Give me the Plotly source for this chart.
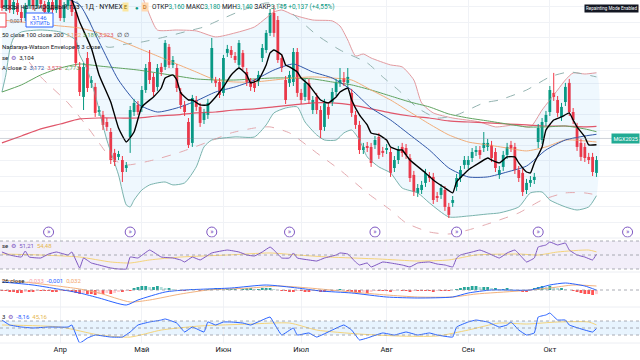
import plotly.graph_objects as go
import pandas as pd

# ---------------- data ----------------
first_day = "2025-03-11"
holidays = ["2025-04-18", "2025-05-26", "2025-06-19", "2025-07-04", "2025-09-01"]
month_names = {3: "Мар", 4: "Апр", 5: "Май", 6: "Июн", 7: "Июл", 8: "Авг", 9: "Сен", 10: "Окт", 11: "Ноя"}

open_ = [4.078, 3.993, 4.058, 3.980, 4.026, 3.967, 3.928, 4.006, 4.071, 4.006, 4.084, 4.019, 3.967, 4.032, 3.980, 4.045, 3.928, 4.006, 4.045, 3.967,
         3.610, 3.415, 3.668, 3.506, 3.480, 3.317, 3.298, 3.252, 3.187, 3.051, 3.025, 3.005, 2.953, 3.155, 3.317, 3.363, 3.343, 3.460, 3.642, 3.545,
         3.480, 3.610, 3.610, 3.740, 3.623, 3.603, 3.447, 3.363, 3.252, 3.116, 3.395, 3.350, 3.265, 3.298, 3.525, 3.525, 3.512, 3.441, 3.701, 3.720,
         3.681, 3.623, 3.701, 3.577, 3.512, 3.506, 3.512, 3.668, 3.720, 3.831, 3.961, 3.915, 3.668, 3.525, 3.506, 3.512, 3.707, 3.441, 3.415, 3.506,
         3.330, 3.415, 3.330, 3.220, 3.350, 3.382, 3.447, 3.506, 3.538, 3.506, 3.441, 3.298, 3.233, 3.070, 3.096, 3.090, 3.103, 3.155, 3.064, 3.070,
         3.057, 2.953, 3.005, 3.090, 3.083, 3.018, 2.908, 2.791, 2.810, 2.856, 2.901, 2.895, 2.771, 2.778, 2.810, 2.700, 2.726, 2.830, 2.888, 2.973,
         2.973, 3.018, 3.057, 3.070, 3.083, 3.090, 3.103, 3.057, 2.908, 2.960, 3.038, 3.103, 3.090, 2.940, 2.921, 2.810, 2.856, 2.875, 3.122, 3.135,
         3.252, 3.317, 3.441, 3.395, 3.285, 3.382, 3.506, 3.317, 3.220, 3.116, 3.090, 3.025, 3.025, 2.921]
high = [4.104, 4.084, 4.078, 4.052, 4.045, 3.987, 4.026, 4.097, 4.091, 4.110, 4.104, 4.039, 4.058, 4.052, 4.065, 4.071, 4.032, 4.065, 4.071, 3.993,
        3.642, 3.636, 3.707, 3.551, 3.506, 3.356, 3.324, 3.278, 3.213, 3.077, 3.064, 3.031, 2.992, 3.356, 3.402, 3.389, 3.486, 3.629, 3.720, 3.571,
        3.629, 3.636, 3.785, 3.759, 3.681, 3.629, 3.473, 3.389, 3.278, 3.428, 3.421, 3.376, 3.337, 3.402, 3.798, 3.545, 3.538, 3.688, 3.753, 3.746,
        3.707, 3.785, 3.720, 3.603, 3.538, 3.532, 3.584, 3.759, 3.850, 3.987, 4.013, 3.941, 3.694, 3.551, 3.584, 3.733, 3.733, 3.467, 3.532, 3.532,
        3.421, 3.441, 3.356, 3.402, 3.376, 3.473, 3.532, 3.603, 3.577, 3.603, 3.467, 3.324, 3.259, 3.116, 3.122, 3.116, 3.161, 3.181, 3.090, 3.109,
        3.083, 3.031, 3.096, 3.116, 3.109, 3.044, 2.934, 2.849, 2.869, 2.947, 2.927, 2.921, 2.797, 2.849, 2.836, 2.726, 2.771, 2.914, 2.966, 3.031,
        3.031, 3.083, 3.096, 3.096, 3.187, 3.142, 3.129, 3.083, 2.966, 3.064, 3.116, 3.129, 3.116, 2.966, 2.947, 2.882, 2.901, 2.921, 3.239, 3.278,
        3.324, 3.486, 3.571, 3.421, 3.376, 3.506, 3.532, 3.343, 3.246, 3.142, 3.116, 3.051, 3.051, 3.031]
low = [3.974, 3.974, 3.961, 3.954, 3.948, 3.902, 3.909, 3.987, 3.980, 3.987, 3.993, 3.948, 3.941, 3.954, 3.961, 3.909, 3.902, 3.980, 3.941, 3.616,
       3.421, 3.330, 3.447, 3.473, 3.285, 3.291, 3.200, 3.194, 2.979, 2.966, 3.005, 2.862, 2.927, 3.051, 3.291, 3.298, 3.317, 3.441, 3.499, 3.421,
       3.454, 3.551, 3.590, 3.603, 3.603, 3.447, 3.337, 3.291, 3.083, 3.090, 3.324, 3.220, 3.239, 3.272, 3.506, 3.480, 3.408, 3.421, 3.675, 3.668,
       3.636, 3.603, 3.590, 3.486, 3.454, 3.447, 3.486, 3.642, 3.701, 3.811, 3.805, 3.636, 3.577, 3.369, 3.480, 3.486, 3.415, 3.369, 3.389, 3.369,
       3.304, 3.304, 3.148, 3.194, 3.272, 3.356, 3.421, 3.480, 3.486, 3.480, 3.285, 3.207, 3.044, 3.044, 3.057, 2.960, 3.077, 3.012, 3.025, 3.044,
       2.895, 2.927, 2.979, 3.025, 3.012, 2.862, 2.771, 2.765, 2.784, 2.830, 2.862, 2.719, 2.732, 2.752, 2.674, 2.628, 2.700, 2.804, 2.862, 2.947,
       2.947, 2.992, 3.031, 3.012, 3.057, 3.064, 2.992, 2.927, 2.882, 2.934, 3.012, 3.057, 2.914, 2.862, 2.771, 2.784, 2.830, 2.849, 3.083, 3.109,
       3.226, 3.291, 3.389, 3.285, 3.259, 3.356, 3.291, 3.239, 3.064, 2.999, 2.992, 2.979, 2.901, 2.895]
close = [3.993, 4.058, 3.980, 4.032, 3.967, 3.928, 4.006, 4.071, 4.006, 4.084, 4.019, 3.967, 4.032, 3.980, 4.045, 3.928, 4.013, 4.045, 3.967, 3.636,
         3.447, 3.610, 3.473, 3.525, 3.311, 3.330, 3.233, 3.220, 3.005, 2.992, 3.044, 2.927, 2.972, 3.330, 3.376, 3.317, 3.460, 3.603, 3.525, 3.447,
         3.603, 3.577, 3.766, 3.623, 3.655, 3.473, 3.363, 3.317, 3.103, 3.408, 3.350, 3.246, 3.311, 3.376, 3.733, 3.506, 3.428, 3.668, 3.727, 3.688,
         3.655, 3.766, 3.610, 3.512, 3.480, 3.473, 3.558, 3.733, 3.831, 3.961, 3.831, 3.655, 3.603, 3.395, 3.558, 3.707, 3.441, 3.395, 3.506, 3.395,
         3.395, 3.330, 3.200, 3.376, 3.298, 3.447, 3.506, 3.525, 3.512, 3.545, 3.311, 3.233, 3.070, 3.090, 3.083, 2.986, 3.135, 3.038, 3.051, 3.083,
         2.921, 3.005, 3.070, 3.051, 3.038, 2.888, 2.797, 2.823, 2.843, 2.921, 2.888, 2.745, 2.758, 2.823, 2.700, 2.648, 2.745, 2.888, 2.940, 3.005,
         3.005, 3.057, 3.070, 3.038, 3.116, 3.116, 3.018, 2.953, 2.940, 3.038, 3.090, 3.083, 2.940, 2.888, 2.797, 2.856, 2.875, 2.895, 3.213, 3.252,
         3.298, 3.460, 3.415, 3.311, 3.350, 3.480, 3.317, 3.265, 3.090, 3.025, 3.018, 3.005, 2.927, 3.005]

# indicator lines: (bar number, value)
ma_fast_bar = [10, 15, 18, 20, 23, 25, 28, 30, 32, 34, 36, 39, 41, 42, 44, 45, 46, 48, 49, 51, 53, 55, 57, 59, 61, 63, 64, 66, 68, 69, 70, 72, 73, 74, 76, 77, 79, 82, 84, 86, 87, 89, 90, 92, 94, 95, 97, 99, 100, 102, 103, 105, 109, 111, 114, 116, 117, 120, 122, 125, 126, 128, 130, 132, 133, 135, 136, 137, 139, 140, 142, 144, 146, 147, 148, 150, 151, 153]
ma_fast = [4.240, 4.143, 4.045, 3.902, 3.733, 3.558, 3.382, 3.213, 3.122, 3.187, 3.350, 3.415, 3.473, 3.538, 3.558, 3.525, 3.441, 3.395, 3.395, 3.363, 3.363, 3.415, 3.480, 3.558, 3.603, 3.558, 3.506, 3.525, 3.623, 3.701, 3.720, 3.688, 3.623, 3.610, 3.577, 3.538, 3.493, 3.395, 3.376, 3.415, 3.447, 3.473, 3.395, 3.298, 3.233, 3.181, 3.168, 3.135, 3.090, 3.070, 3.070, 3.005, 2.921, 2.875, 2.823, 2.791, 2.862, 2.940, 2.973, 3.018, 3.005, 2.986, 3.025, 3.025, 2.986, 2.927, 2.921, 2.986, 3.090, 3.200, 3.265, 3.285, 3.311, 3.265, 3.220, 3.155, 3.103, 3.104]

grid_bar = [0, 5, 10, 15, 20, 25, 30, 35, 40, 45, 50, 55, 60, 65, 70, 75, 80, 85, 90, 95, 100, 105, 110, 115, 120, 125, 130, 135, 140, 145, 150, 153]
ma20 = [4.078, 4.078, 4.078, 4.065, 4.013, 3.772, 3.525, 3.369, 3.317, 3.343, 3.389, 3.447, 3.480, 3.525, 3.590, 3.629, 3.577, 3.538, 3.460, 3.343, 3.265, 3.168, 3.070, 2.953, 2.895, 2.895, 2.927, 2.966, 3.070, 3.135, 3.161, 3.172]
ma50 = [3.915, 3.902, 3.889, 3.876, 3.863, 3.831, 3.785, 3.733, 3.681, 3.629, 3.577, 3.525, 3.512, 3.512, 3.525, 3.538, 3.545, 3.538, 3.525, 3.460, 3.395, 3.317, 3.239, 3.168, 3.122, 3.103, 3.083, 3.064, 3.090, 3.135, 3.129, 3.122]
ma100 = [3.447, 3.493, 3.558, 3.603, 3.629, 3.616, 3.603, 3.590, 3.571, 3.551, 3.532, 3.525, 3.525, 3.532, 3.538, 3.538, 3.532, 3.512, 3.493, 3.460, 3.421, 3.382, 3.350, 3.304, 3.278, 3.259, 3.239, 3.220, 3.220, 3.226, 3.207, 3.189]
ma200 = [3.116, 3.161, 3.207, 3.239, 3.272, 3.278, 3.278, 3.278, 3.291, 3.298, 3.311, 3.317, 3.330, 3.337, 3.350, 3.363, 3.376, 3.376, 3.363, 3.337, 3.311, 3.291, 3.278, 3.259, 3.252, 3.246, 3.239, 3.233, 3.226, 3.226, 3.220, 3.223]

bb_up_bar = [0, 10, 20, 30, 35, 37, 38, 40, 45, 50, 55, 60, 65, 68, 70, 72, 75, 80, 85, 87, 89, 91, 93, 95, 100, 103, 106, 108, 111, 116, 123, 127, 132, 136, 139, 143, 145, 147, 150, 153]
bb_up = [4.435, 4.403, 4.338, 4.273, 4.123, 4.013, 3.948, 3.850, 3.850, 3.844, 3.805, 3.831, 3.870, 3.928, 3.967, 3.980, 3.948, 3.915, 3.909, 3.876, 3.785, 3.681, 3.694, 3.668, 3.623, 3.610, 3.525, 3.376, 3.311, 3.278, 3.252, 3.220, 3.233, 3.220, 3.330, 3.460, 3.525, 3.571, 3.564, 3.572]
bb_lo_bar = [0, 1, 2, 3, 5, 10, 15, 19, 20, 22, 24, 27, 30, 32, 33, 34, 36, 38, 40, 42, 44, 47, 50, 52, 54, 60, 65, 68, 70, 73, 76, 78, 81, 83, 86, 88, 90, 92, 94, 97, 100, 103, 107, 110, 115, 120, 125, 128, 133, 136, 139, 141, 145, 148, 151, 153]
bb_lo = [3.447, 3.558, 3.720, 3.798, 3.837, 3.850, 3.837, 3.785, 3.688, 3.590, 3.428, 3.135, 2.908, 2.713, 2.700, 2.745, 2.810, 2.843, 2.856, 2.862, 2.843, 2.856, 2.960, 3.090, 3.135, 3.155, 3.155, 3.233, 3.311, 3.343, 3.350, 3.252, 3.168, 3.135, 3.135, 3.181, 3.200, 3.135, 3.025, 2.960, 2.921, 2.823, 2.791, 2.726, 2.635, 2.641, 2.654, 2.661, 2.700, 2.791, 2.797, 2.745, 2.700, 2.680, 2.700, 2.773]

nw_up_bar = [10, 20, 27, 32, 36, 42, 48, 52, 56, 62, 68, 72, 76, 81, 87, 94, 98, 102, 107, 112, 117, 124, 128, 135, 141, 146, 153]
nw_up = [4.305, 4.013, 3.740, 3.759, 3.772, 3.805, 3.844, 3.870, 3.915, 3.980, 4.026, 4.013, 3.928, 3.818, 3.720, 3.636, 3.545, 3.460, 3.343, 3.278, 3.298, 3.376, 3.395, 3.460, 3.545, 3.577, 3.545]
nw_lo_bar = [7, 10, 17, 22, 25, 28, 32, 39, 46, 53, 59, 65, 69, 74, 79, 81, 87, 94, 100, 104, 110, 115, 120, 125, 128, 133, 139, 145, 150, 153]
nw_lo = [3.642, 3.545, 3.376, 3.220, 3.116, 3.018, 2.973, 3.005, 3.057, 3.122, 3.181, 3.213, 3.220, 3.181, 3.090, 3.051, 2.940, 2.791, 2.680, 2.596, 2.537, 2.524, 2.550, 2.589, 2.615, 2.661, 2.745, 2.791, 2.791, 2.778]

rsi_bar = [0, 2, 5, 6, 7, 10, 12, 14, 17, 18, 20, 21, 23, 25, 28, 30, 32, 33, 35, 38, 41, 44, 46, 47, 49, 51, 54, 58, 61, 63, 65, 67, 69, 70, 72, 74, 75, 76, 79, 81, 83, 86, 87, 89, 91, 92, 94, 95, 98, 100, 103, 105, 107, 110, 112, 114, 116, 117, 118, 121, 123, 125, 128, 130, 132, 134, 135, 137, 138, 140, 141, 143, 145, 146, 148, 150, 152, 153]
rsi = [54.3, 50.0, 47.1, 55.7, 47.1, 45.7, 51.4, 54.3, 50.0, 54.3, 31.4, 45.7, 38.6, 35.7, 31.4, 30.0, 30.0, 47.1, 45.7, 57.1, 47.1, 45.7, 42.9, 40.0, 47.1, 42.9, 52.9, 57.1, 54.3, 50.0, 48.6, 54.3, 61.4, 57.1, 45.7, 45.7, 52.9, 45.7, 42.9, 41.4, 45.7, 50.0, 52.9, 51.4, 40.0, 35.7, 38.6, 32.9, 40.0, 38.6, 35.7, 32.9, 38.6, 40.0, 37.1, 35.7, 32.9, 45.7, 50.0, 54.3, 57.1, 52.9, 45.7, 52.9, 57.1, 45.7, 40.0, 45.7, 61.4, 64.3, 68.6, 64.3, 67.1, 57.1, 50.0, 47.1, 42.9, 51.21]
rsi_ma_bar = [0, 10, 20, 28, 33, 38, 46, 58, 69, 76, 84, 97, 107, 115, 122, 133, 138, 143, 151, 153]
rsi_ma = [51.4, 50.0, 47.1, 40.0, 38.6, 42.9, 47.1, 50.0, 52.9, 50.0, 47.1, 44.3, 41.4, 42.9, 50.0, 51.4, 50.0, 54.3, 57.1, 54.48]

macd_bar = [0, 8, 20, 25, 32, 35, 42, 47, 59, 68, 76, 82, 90, 99, 107, 116, 120, 126, 136, 141, 145, 150, 153]
macd = [0.064, 0.040, -0.024, -0.064, -0.120, -0.080, -0.016, 0.000, 0.016, 0.040, 0.016, -0.008, -0.024, -0.056, -0.064, -0.056, -0.024, 0.000, 0.000, 0.040, 0.056, 0.032, -0.001]
signal_bar = [0, 8, 20, 25, 33, 38, 46, 53, 64, 71, 79, 90, 99, 107, 116, 122, 133, 141, 147, 153]
signal = [0.080, 0.056, 0.008, -0.024, -0.096, -0.080, -0.032, 0.000, 0.016, 0.032, 0.016, -0.016, -0.040, -0.056, -0.056, -0.032, -0.008, 0.016, 0.040, 0.032]
hist = [-0.008, -0.008,
        -0.016, -0.016, -0.024, -0.024, -0.016, -0.016, -0.016, -0.008, -0.008, -0.008,
        -0.008, -0.016, -0.016, -0.008, -0.008, -0.008,
        -0.016, -0.024, -0.032, -0.024, -0.032, -0.032, -0.040, -0.032, -0.032, -0.024, -0.032, -0.024, -0.016,
        -0.016, -0.008, -0.008,
        0.016, 0.024, 0.032, 0.032, 0.024, 0.024, 0.032, 0.024, 0.016,
        0.016, 0.008, 0.000, -0.008, -0.008, 0.000, 0.008, 0.000, -0.008, 0.000, 0.008, 0.008,
        0.016, 0.016, 0.008, 0.008, 0.008,
        0.008, 0.000, 0.008, 0.016, 0.016, 0.008, 0.008,
        0.016, 0.016, 0.016, 0.008, 0.000,
        -0.008, -0.008, -0.016, -0.016, -0.008, -0.008, -0.016, -0.016, -0.008, -0.008,
        -0.016, -0.016, -0.008, -0.008, 0.000, 0.008, 0.000, -0.008,
        -0.016, -0.024, -0.024, -0.016, -0.024, -0.016, -0.008,
        -0.008, -0.008, -0.008, -0.016, -0.008, 0.000, -0.008, -0.008, -0.016, -0.008, -0.008, -0.008, -0.008, -0.008, -0.016, -0.008, -0.008, -0.008, -0.008, 0.000, 0.008,
        0.016, 0.024, 0.024, 0.032, 0.032, 0.024, 0.024, 0.024, 0.016,
        0.016, 0.008, 0.008, 0.016, 0.008, 0.000, -0.008,
        -0.016, -0.016, -0.008,
        0.016, 0.024, 0.032, 0.024, 0.032, 0.024, 0.016, 0.016, 0.008,
        0.000, -0.008, -0.016,
        -0.024, -0.032, -0.032, -0.040, -0.033]

cci_bar = [0, 2, 5, 8, 12, 17, 18, 20, 22, 24, 28, 31, 33, 35, 38, 41, 42, 45, 47, 49, 52, 53, 55, 57, 59, 62, 64, 69, 70, 72, 75, 76, 79, 81, 85, 88, 90, 92, 94, 98, 101, 104, 107, 110, 112, 116, 117, 120, 122, 125, 128, 130, 131, 133, 135, 137, 138, 140, 141, 143, 145, 146, 150, 152, 153]
cci = [114, 43, 14, 0, 14, 14, 43, -214, -143, -100, -129, -129, -57, 43, 86, 114, 129, 71, -57, 14, -57, 86, 43, 86, 86, 71, 43, 157, 71, -100, 0, -100, -71, -129, -29, 43, -29, -171, -143, -71, -100, -57, -100, -71, -100, -129, 14, 86, 114, 86, 14, 43, 86, -29, -100, -71, 157, 186, 214, 114, 114, 43, -29, -57, -8.16]
cci_ma_bar = [0, 15, 25, 33, 41, 51, 64, 74, 81, 92, 102, 112, 120, 128, 135, 143, 151, 153]
cci_ma = [43, 14, -100, -129, -29, 29, 57, 71, -29, -86, -114, -114, -29, 71, 57, 86, 86, 45.16]

roll_bar = [12, 33, 54, 74, 96, 117, 138, 161]
last_price = 3.145

# ---------------- styling ----------------
W, H = 640, 360
FONT = "Roboto, Liberation Sans, Arial, sans-serif"
DARK = "#131722"
UP, DN = "#089981", "#f23645"
GRID = "#f0f2f6"
MAIN_RANGE = [2.498, 4.045]
X_RANGE = [-0.5, 164.2]

# pane boundaries in pixels from top
P_MAIN = (0, 238)
P_RSI = (238, 272)
P_MACD = (272, 307)
P_CCI = (307, 343)


def dom(p):
    return [1 - p[1] / H, 1 - p[0] / H]


# dates -> month ticks
bday = pd.offsets.CustomBusinessDay(holidays=holidays)
dates = pd.date_range(first_day, periods=170, freq=bday)
tickvals, ticktext = [], []
for i in range(1, len(dates)):
    if dates[i].month != dates[i - 1].month:
        tickvals.append(i)
        ticktext.append(month_names[dates[i].month])

n = len(close)
bars = list(range(n))

fig = go.Figure()

# Bollinger fill
fig.add_trace(go.Scatter(x=bb_up_bar + bb_lo_bar[::-1], y=bb_up + bb_lo[::-1], fill="toself",
                         fillcolor="rgba(33,150,243,0.07)", line=dict(width=0, shape="spline", smoothing=0.6),
                         hoverinfo="skip", xaxis="x", yaxis="y"))


def line(xs, ys, color, width=1.0, dash=None, ax=("x", "y"), smooth=0.6):
    fig.add_trace(go.Scatter(x=xs, y=ys, mode="lines",
                             line=dict(color=color, width=width, dash=dash, shape="spline", smoothing=smooth),
                             hoverinfo="skip", xaxis=ax[0], yaxis=ax[1]))


line(bb_up_bar, bb_up, "#e39a9f", 1.0)
line(bb_lo_bar, bb_lo, "#79b3ad", 1.0)
line(nw_up_bar, nw_up, "#93b3b0", 1.0, "dash")
line(nw_lo_bar, nw_lo, "#e4a9ae", 1.0, "dash")
line(grid_bar, ma200, "#e0566a", 1.2)
line(grid_bar, ma100, "#5fa35f", 1.0)
line(grid_bar, ma50, "#f2ad79", 1.0)
line(grid_bar, ma20, "#2f56a8", 1.0)

# candles: wicks + bodies
for is_up, col in ((True, UP), (False, DN)):
    wx, wy = [], []
    bx, bbase, bh = [], [], []
    for i in bars:
        if (close[i] >= open_[i]) != is_up:
            continue
        wx += [i, i, None]
        wy += [low[i], high[i], None]
        bx.append(i)
        bbase.append(min(open_[i], close[i]))
        bh.append(max(abs(close[i] - open_[i]), 0.004))
    fig.add_trace(go.Scatter(x=wx, y=wy, mode="lines", line=dict(color=col, width=1), hoverinfo="skip",
                             xaxis="x", yaxis="y"))
    fig.add_trace(go.Bar(x=bx, y=bh, base=bbase, width=0.72, marker=dict(color=col, line=dict(width=0)),
                         hoverinfo="skip", xaxis="x", yaxis="y"))

line(ma_fast_bar, ma_fast, "#000000", 1.4, smooth=0.4)

# roll markers
roll_y = MAIN_RANGE[0] + 0.025 * (MAIN_RANGE[1] - MAIN_RANGE[0])
fig.add_trace(go.Scatter(x=roll_bar, y=[roll_y] * len(roll_bar), mode="markers+text", text=["»"] * len(roll_bar),
                         textposition="middle center", textfont=dict(size=7, color="#7e57c2", family=FONT),
                         marker=dict(symbol="circle", size=10, color="white", line=dict(color="#7e57c2", width=1)),
                         hoverinfo="skip", xaxis="x", yaxis="y", cliponaxis=False))

# RSI
line(rsi_ma_bar, rsi_ma, "#f5d47a", 1.0, ax=("x2", "y2"))
line(rsi_bar, rsi, "#7e57c2", 1.0, ax=("x2", "y2"), smooth=0.3)

# MACD
hist_colors = []
for i, v in enumerate(hist):
    prev = hist[i - 1] if i > 0 else v
    if v >= 0:
        hist_colors.append("#26a69a" if v >= prev else "#b2dfdb")
    else:
        hist_colors.append("#ff5252" if v <= prev else "#ffcdd2")
fig.add_trace(go.Bar(x=bars, y=hist, width=0.72, marker=dict(color=hist_colors, line=dict(width=0)),
                     hoverinfo="skip", xaxis="x3", yaxis="y3"))
line(signal_bar, signal, "#f2b27e", 1.0, ax=("x3", "y3"))
line(macd_bar, macd, "#2962ff", 1.0, ax=("x3", "y3"))

# CCI
line(cci_ma_bar, cci_ma, "#f5d47a", 1.0, ax=("x4", "y4"))
line(cci_bar, cci, "#2962ff", 1.0, ax=("x4", "y4"), smooth=0.3)

shapes = []
# RSI band
shapes.append(dict(type="rect", xref="paper", yref="y2", x0=0, x1=1, y0=30, y1=70,
                   fillcolor="rgba(126,87,194,0.10)", line=dict(width=0), layer="below"))
for v in (70, 50, 30):
    shapes.append(dict(type="line", xref="paper", yref="y2", x0=0, x1=1, y0=v, y1=v,
                       line=dict(color="#9598a1", width=0.8, dash="dot")))
shapes.append(dict(type="line", xref="paper", yref="y3", x0=0, x1=1, y0=0, y1=0,
                   line=dict(color="#9598a1", width=0.8, dash="dot")))
shapes.append(dict(type="rect", xref="paper", yref="y4", x0=0, x1=1, y0=-100, y1=100,
                   fillcolor="rgba(33,150,243,0.10)", line=dict(width=0), layer="below"))
for v in (100, 0, -100):
    shapes.append(dict(type="line", xref="paper", yref="y4", x0=0, x1=1, y0=v, y1=v,
                       line=dict(color="#9598a1", width=0.8, dash="dot")))
# last price line
shapes.append(dict(type="line", xref="paper", yref="y", x0=0, x1=1, y0=last_price, y1=last_price,
                   line=dict(color="rgba(120,130,150,0.35)", width=1)))
# pane separators
for p in (P_RSI[0], P_MACD[0], P_CCI[0], P_CCI[1]):
    shapes.append(dict(type="line", xref="paper", yref="paper", x0=0, x1=1, y0=1 - p / H, y1=1 - p / H,
                       line=dict(color="#eceef3", width=1)))
# buy/sell buttons
shapes.append(dict(type="rect", xref="paper", yref="paper", x0=-5 / W, x1=6 / W, y0=1 - 27 / H, y1=1 - 13 / H,
                   line=dict(color="#f23645", width=1), fillcolor="white"))
shapes.append(dict(type="rect", xref="paper", yref="paper", x0=26 / W, x1=53 / W, y0=1 - 27 / H, y1=1 - 13 / H,
                   line=dict(color="#2962ff", width=1), fillcolor="white"))

ann = []


def txt(px, py, s, size=6.5, color=DARK, anchor="left", bg=None):
    ann.append(dict(xref="paper", yref="paper", x=px / W, y=1 - py / H, text=s, showarrow=False,
                    xanchor=anchor, yanchor="middle", font=dict(size=size, color=color, family=FONT),
                    bgcolor=bg, borderpad=1))


def c(s, col):
    return f"<span style='color:{col}'>{s}</span>"


txt(0, 7, "ерсы на природный газ · 1Д · NYMEX", 7)
txt(125, 7, "E", 5.5, "#8a6d00", "center", "#fbe7a1")
txt(137, 7, "●", 6, "#089981", "center")
txt(145, 7, "D", 5.5, "#b35c00", "center", "#ffd9b3")
txt(150, 7, "ОТКР" + c("3,160", UP) + " МАКС" + c("3,180", UP) + " МИН" + c("3,140", UP) + " ЗАКР" + c("3,145", UP)
    + " " + c("+0,137 (+4,55%)", UP), 6.5)
txt(16, 21, "0,001", 5, "#6a6d78", "center")
txt(39.5, 17, "3,146", 6, "#2962ff", "center")
txt(39.5, 23.5, "КУПИТЬ", 5, "#2962ff", "center")
txt(0, 35, "50 close 100 close 200  " + c("3,122", "#f2ad79") + " " + c("3,189", "#5fa35f") + " "
    + c("3,223", "#e0566a") + "  ∅  ∅", 6)
txt(0, 46, "Nadaraya-Watson Envelope 8 3 close", 6)
txt(0, 57, "se  " + c("⚙", "#7e57c2") + "  3,104", 6)
txt(0, 67, "A close 2  " + c("3,172", "#2f56a8") + "  " + c("3,572", "#e0566a") + "  " + c("2,773", "#5fa35f"), 6)
txt(611, 8, "Repainting Mode Enabled", 4.5, "white", "center", "#131722")
txt(0, 245, "se  " + c("⚙", "#7e57c2") + "  " + c("51,21", "#7e57c2") + "  " + c("54,48", "#e6b84f"), 6)
txt(0, 280, "26 close  " + c("-0,033", "#f7a1a8") + "  " + c("-0,001", "#2962ff") + "  " + c("0,032", "#f2a66b"), 6)
txt(0, 316, "3  " + c("⚙", "#7e57c2") + "  " + c("-8,16", "#2962ff") + "  " + c("45,16", "#e6b84f"), 6)
ann.append(dict(xref="paper", yref="y", x=1, y=last_price, text="MGX2025", showarrow=False, xanchor="right",
                yanchor="middle", font=dict(size=5.5, color="white", family=FONT), bgcolor="#22ab94", borderpad=1.5))

axis_common = dict(range=X_RANGE, showgrid=True, gridcolor=GRID, gridwidth=1, zeroline=False,
                   tickvals=tickvals, ticktext=ticktext, showline=False, ticks="", fixedrange=True)

fig.update_layout(
    width=W, height=H, margin=dict(l=0, r=0, t=0, b=0),
    paper_bgcolor="white", plot_bgcolor="white", showlegend=False, barmode="overlay",
    font=dict(family=FONT, color=DARK),
    xaxis=dict(axis_common, anchor="y", showticklabels=False),
    xaxis2=dict(axis_common, anchor="y2", matches="x", showticklabels=False),
    xaxis3=dict(axis_common, anchor="y3", matches="x", showticklabels=False),
    xaxis4=dict(axis_common, anchor="y4", matches="x", showticklabels=True,
                tickfont=dict(size=7.5, color=DARK, family=FONT)),
    yaxis=dict(domain=dom(P_MAIN), range=MAIN_RANGE, showticklabels=False, showgrid=True, gridcolor=GRID,
               dtick=0.1, tick0=0, zeroline=False, fixedrange=True),
    yaxis2=dict(domain=dom(P_RSI), range=[25.7, 74.3], showticklabels=False, showgrid=False, zeroline=False),
    yaxis3=dict(domain=dom(P_MACD), range=[-0.136, 0.144], showticklabels=False, showgrid=False, zeroline=False),
    yaxis4=dict(domain=dom(P_CCI), range=[-214, 300], showticklabels=False, showgrid=False, zeroline=False),
    shapes=shapes, annotations=ann,
)

fig.write_html("out.html", config={"displayModeBar": False},
               post_script="document.body.style.margin='0';document.body.style.overflow='hidden';")
